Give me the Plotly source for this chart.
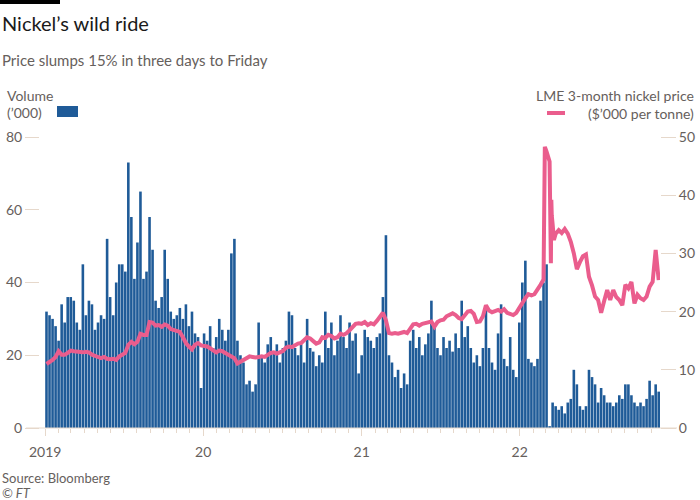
import pandas as pd
import plotly.graph_objects as go

# ---------------- data ----------------
# weekly volume ('000), week ending Fridays from 2019-01-04
vol_2019 = [32, 31, 30, 28,
            24, 34, 29, 36,
            36, 35, 29, 27, 45,
            31, 35, 34, 27,
            29, 31, 30, 52, 36,
            31, 40, 45, 45,
            43, 73, 58, 41,
            51, 65, 41, 43, 58,
            49, 35, 33, 36,
            49, 41, 32, 30,
            31, 33, 30, 34, 28,
            32, 26, 25, 11]
vol_2020 = [26, 24, 28, 22, 25,
            30, 27, 24, 27,
            48, 52, 24, 20,
            18, 12, 13, 10,
            12, 29, 20, 18, 23,
            25, 21, 23, 18,
            22, 24, 32, 31, 22,
            20, 23, 18, 30,
            22, 21, 17, 20,
            18, 32, 22, 29, 20,
            24, 31, 25, 22,
            29, 24, 26, 15]
vol_2021 = [20, 27, 25, 24, 22,
            25, 26, 36, 53,
            20, 18, 14, 16,
            11, 15, 12, 24, 27,
            22, 25, 20, 23,
            26, 35, 28, 22,
            20, 25, 22, 24, 21,
            26, 22, 35, 25,
            28, 22, 18, 20,
            17, 22, 33, 22, 18,
            16, 26, 34, 19,
            17, 25, 16, 14, 29]
vol_2022 = [40, 46, 19, 18,
            17, 19, 35, 40,
            45, 0.5, 7, 6,
            5, 6, 4, 7, 8,
            16, 12, 6, 5,
            6, 16, 14, 12,
            7, 11, 9, 7, 7,
            6, 7, 9, 8,
            12, 12, 9, 7, 6,
            7, 6, 8, 13,
            9, 12, 10]

# weekly LME 3-month nickel price ($'000 per tonne)
px_2019 = [11.0, 11.3, 11.7, 12.2,
           13.2, 12.6, 12.6, 12.9,
           13.3, 13.2, 13.1, 13.0, 13.0,
           13.1, 13.0, 12.6, 12.3,
           12.2, 12.0, 12.2, 11.9, 11.8,
           11.9, 11.7, 12.3, 12.7,
           12.9, 14.3, 14.8, 14.4,
           14.8, 16.2, 16.0, 16.0, 18.2,
           18.1, 17.6, 17.7, 17.4,
           17.8, 17.6, 17.0, 16.8,
           16.7, 16.5, 15.6, 14.6, 14.0,
           13.5, 14.3, 14.6, 14.2]
px_2020 = [14.1, 14.0, 13.7, 13.4, 13.0,
           13.3, 13.2, 12.9, 12.6,
           12.4, 12.0, 11.1, 11.4,
           11.6, 11.9, 12.3, 12.2,
           12.1, 12.2, 12.3, 12.2, 12.5,
           12.9, 13.0, 12.8, 13.0,
           13.2, 13.8, 14.0, 13.9, 14.2,
           14.5, 14.6, 15.0, 15.6,
           15.4, 14.9, 14.5, 14.7,
           15.6, 15.5, 16.0, 15.8, 15.4,
           15.6, 16.2, 16.0, 16.3,
           16.8, 17.4, 17.9, 18.0]
px_2021 = [17.9, 18.2, 17.7, 18.0, 17.8,
           18.4, 19.0, 19.8, 18.5,
           16.3, 16.2, 16.3, 16.2,
           16.4, 16.5, 16.3, 17.0, 17.8,
           17.9, 17.6, 17.9, 18.0,
           18.2, 18.3, 17.4, 18.2,
           18.5, 18.6, 19.2, 19.4, 19.7,
           19.4, 18.9, 18.7, 19.5,
           20.0, 20.1, 19.6, 18.2,
           18.3, 19.2, 21.1, 20.2, 19.9,
           20.1, 20.3, 20.0, 20.4,
           19.8, 19.6, 19.4, 19.8, 20.7]
px_2022 = [21.5, 22.3, 23.0, 22.8,
           23.0, 23.7, 24.6, 25.5,
           47.5, 45.8, 35.0, 33.4,
           34.0, 33.5, 34.2, 33.4, 32.0,
           30.0, 27.3, 28.5, 29.5,
           29.8, 26.0, 24.5, 22.6,
           22.0, 19.8, 21.8, 23.7, 22.0,
           23.7, 22.5, 22.0, 21.1,
           24.6, 24.0, 25.1, 21.4, 22.9,
           22.3, 22.0, 22.6, 24.3,
           25.1, 30.6, 25.4]
# extra daily readings around the March 2022 squeeze
spike_dates = ["2022-02-28", "2022-03-02", "2022-03-08", "2022-03-14",
               "2022-03-15", "2022-03-16", "2022-03-21"]
spike_values = [48.3, 47.9, 46.6, 28.3, 39.2, 36.5, 32.3]

year_ticks = ["2019-01-01", "2020-01-01", "2021-01-01", "2022-01-01"]
year_labels = ["2019", "20", "21", "22"]
left_ticks = [0, 20, 40, 60, 80]
right_ticks = [0, 10, 20, 30, 40, 50]

# ---------------- build ----------------
volume = vol_2019 + vol_2020 + vol_2021 + vol_2022
weekly_price = px_2019 + px_2020 + px_2021 + px_2022
weeks = pd.date_range("2019-01-04", periods=len(volume), freq="W-FRI")

price_df = pd.concat([
    pd.DataFrame({"d": weeks, "p": weekly_price}),
    pd.DataFrame({"d": pd.to_datetime(spike_dates), "p": spike_values}),
]).sort_values("d")

BLUE = "#1f5b98"
PINK = "#ea5d8d"
BEIGE = "#e6d8cb"
GREY = "#66605c"
FONT = "Lato"

fig = go.Figure()
fig.add_bar(x=weeks, y=volume, yaxis="y", width=6 * 86400000,
            marker=dict(color=BLUE, line=dict(width=0)), hoverinfo="skip")
fig.add_scatter(x=price_df["d"], y=price_df["p"], yaxis="y2", mode="lines",
                line=dict(color=PINK, width=4), hoverinfo="skip")

L, R, T, B = 40, 40, 137, 72
PW, PH = 700 - L - R, 500 - T - B


def px_x(p):
    return (p - L) / PW


def px_y(p):
    return (500 - B - p) / PH


fig.update_layout(
    width=700, height=500,
    margin=dict(l=L, r=R, t=T, b=B, autoexpand=False),
    paper_bgcolor="white", plot_bgcolor="white",
    showlegend=False,
    font=dict(family=FONT, color=GREY, size=14),
    xaxis=dict(
        type="date", automargin=False,
        range=["2018-12-20", "2022-11-21"],
        tickmode="array", tickvals=year_ticks, ticktext=year_labels,
        ticks="outside", ticklen=7, tickcolor=BEIGE, tickwidth=1,
        tickfont=dict(size=14, color=GREY, family=FONT),
        ticklabelstandoff=4,
        showgrid=False, zeroline=False, showline=False,
        minor=dict(ticks="outside", ticklen=4, tickcolor=BEIGE, tickwidth=1,
                   dtick="M1", tick0="2019-01-01", showgrid=False),
    ),
    yaxis=dict(
        range=[0, 80], tickmode="array", tickvals=left_ticks, automargin=False,
        ticks="outside", ticklen=14, tickcolor=BEIGE, tickwidth=1,
        tickfont=dict(size=14, color=GREY, family=FONT),
        showgrid=False, zeroline=False, showline=False,
    ),
    yaxis2=dict(
        range=[0, 50], overlaying="y", side="right", automargin=False,
        tickmode="array", tickvals=right_ticks,
        ticks="outside", ticklen=15, tickcolor=BEIGE, tickwidth=1,
        tickfont=dict(size=14, color=GREY, family=FONT),
        showgrid=False, zeroline=False, showline=False,
    ),
)

shapes = [
    # baseline
    dict(type="line", xref="paper", yref="paper", x0=px_x(26), x1=px_x(677),
         y0=0, y1=0, line=dict(color=BEIGE, width=1)),
    # FT top bar
    dict(type="rect", xref="paper", yref="paper", x0=px_x(0), x1=px_x(60),
         y0=px_y(4), y1=px_y(0), fillcolor="black", line=dict(width=0)),
    # legend swatches
    dict(type="rect", xref="paper", yref="paper", x0=px_x(57), x1=px_x(78),
         y0=px_y(117), y1=px_y(106), fillcolor=BLUE, line=dict(width=0)),
    dict(type="line", xref="paper", yref="paper", x0=px_x(547), x1=px_x(565),
         y0=px_y(113), y1=px_y(113), line=dict(color=PINK, width=4)),
]
fig.update_layout(shapes=shapes)


def text(s, x, y, anchor="left", size=14, color=GREY, italic=False):
    fig.add_annotation(text=s, xref="paper", yref="paper", x=px_x(x), y=px_y(y),
                       xanchor=anchor, yanchor="middle", showarrow=False,
                       font=dict(family=FONT, size=size, color=color,
                                 style="italic" if italic else "normal"))


text("Nickel’s wild ride", 0, 23, size=20, color="#1a1a1a")
text("Price slumps 15% in three days to Friday", 0, 60, size=15)
text("Volume", 5, 95)
text("(’000)", 5, 112)
text("LME 3-month nickel price", 696, 95, anchor="right")
text("($’000 per tonne)", 696, 113, anchor="right")
text("Source: Bloomberg", 0, 478, size=13)
text("© FT", 0, 493, size=13, italic=True)

fig.write_html(
    "out.html",
    config={"displayModeBar": False, "staticPlot": True},
    post_script="document.body.style.margin='0';document.body.style.overflow='hidden';",
)
